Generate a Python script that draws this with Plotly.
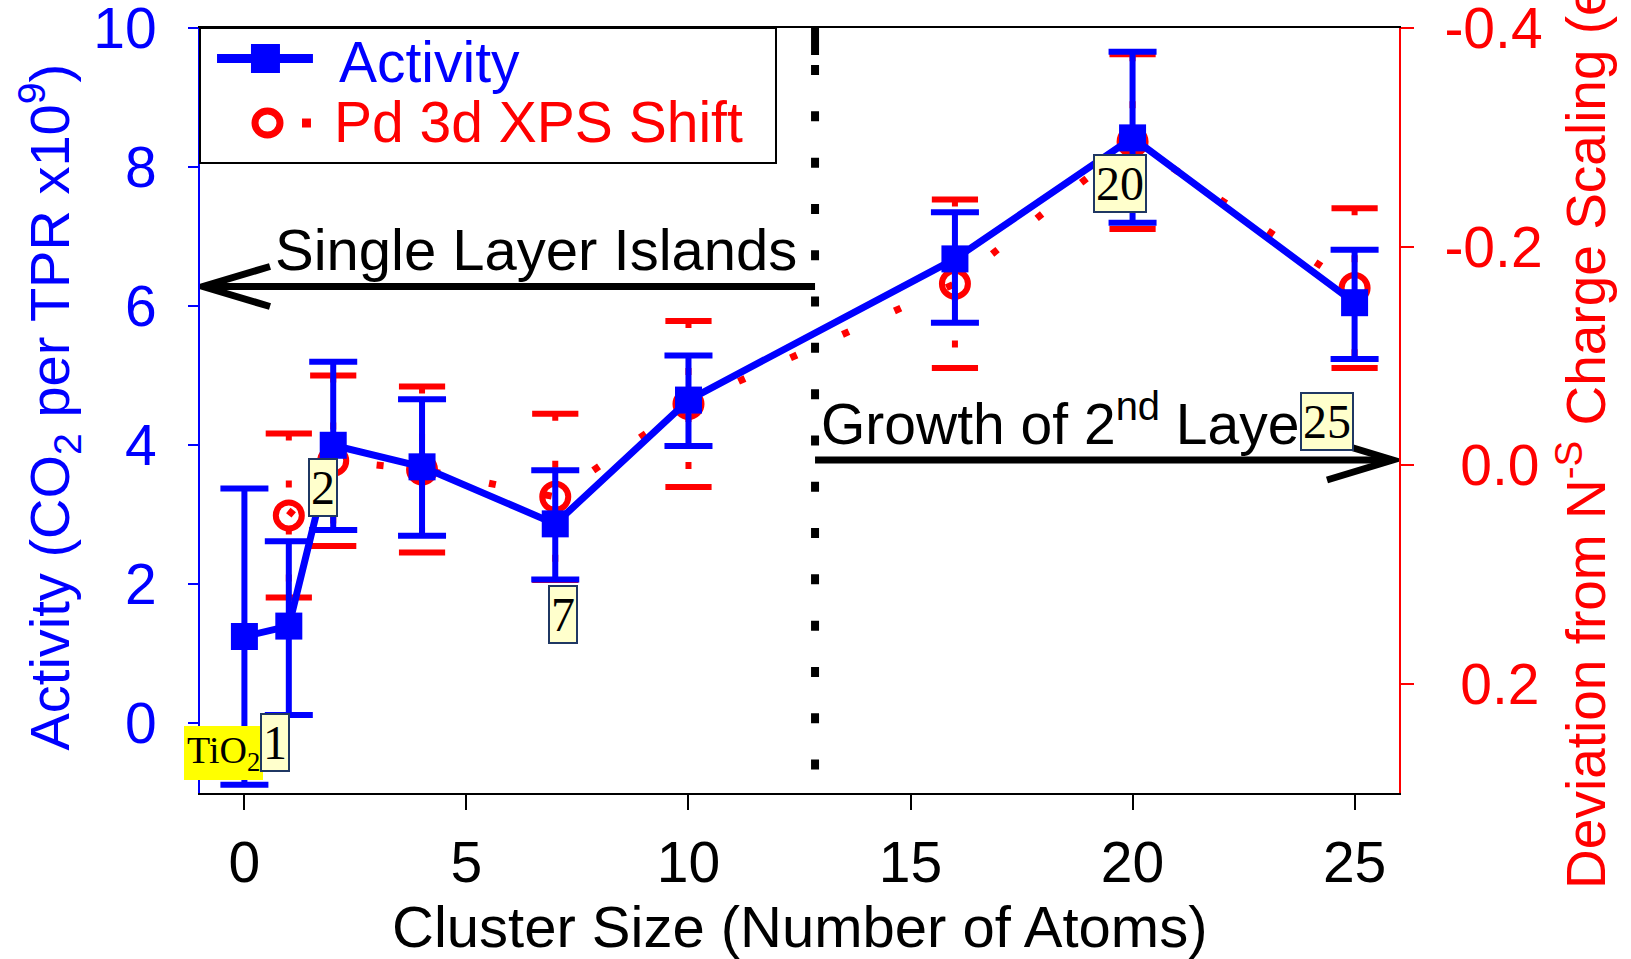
import plotly.graph_objects as go

# Catalytic activity of size-selected Pd clusters on TiO2
cluster_size = [0, 1, 2, 4, 7, 10, 16, 20, 25]
activity = [1.25, 1.40, 4.00, 3.69, 2.87, 4.65, 6.68, 8.42, 6.05]
activity_err_plus = [2.13, 1.22, 1.20, 0.97, 0.77, 0.64, 0.67, 1.24, 0.76]
activity_err_minus = [2.13, 1.28, 1.22, 0.99, 0.80, 0.66, 0.92, 1.22, 0.81]

# Pd 3d XPS shift expressed as deviation from N^-S charge scaling (e)
xps_cluster_size = [1, 2, 4, 7, 10, 16, 20, 25]
xps_shift = [0.046, -0.004, 0.004, 0.029, -0.056, -0.166, -0.296, -0.162]
xps_err = [0.075, 0.078, 0.076, 0.076, 0.076, 0.077, 0.080, 0.073]

x_ticks = [0, 5, 10, 15, 20, 25]
activity_ticks = [0, 2, 4, 6, 8, 10]
shift_ticks = [-0.4, -0.2, 0.0, 0.2]
shift_tick_labels = ["-0.4", "-0.2", "\u00a00.0", "\u00a00.2"]

labelled_sizes = [1, 2, 7, 20, 25]
layer_boundary = 12.85

SANS = "Liberation Sans, Arial, sans-serif"
SERIF = "Liberation Serif, Times New Roman, serif"
BLUE = "#0000FF"
RED = "#FF0000"

fig = go.Figure()

# dotted vertical error bars and caps for the XPS series
seg_x, seg_y, cap_x, cap_y = [], [], [], []
for n, v, e in zip(xps_cluster_size, xps_shift, xps_err):
    seg_x += [n, n, None]
    seg_y += [v - e, v + e, None]
    cap_x += [n, n]
    cap_y += [v - e, v + e]

fig.add_trace(go.Scatter(
    x=seg_x, y=seg_y, mode="lines", yaxis="y",
    line=dict(color=RED, width=6, dash="7px,40px"),
    hoverinfo="skip"))
fig.add_trace(go.Scatter(
    x=cap_x, y=cap_y, mode="markers", yaxis="y",
    marker=dict(symbol="line-ew", size=33, line=dict(color=RED, width=6)),
    hoverinfo="skip"))
fig.add_trace(go.Scatter(
    x=xps_cluster_size, y=xps_shift, mode="lines+markers", yaxis="y",
    name="Pd 3d XPS Shift",
    line=dict(color=RED, width=7, dash="7px,50px"),
    marker=dict(symbol="circle-open", size=26, color=RED, line=dict(color=RED, width=6))))

fig.add_trace(go.Scatter(
    x=cluster_size, y=activity, mode="lines+markers", yaxis="y2",
    name="Activity",
    line=dict(color=BLUE, width=7),
    marker=dict(symbol="square", size=27, color=BLUE),
    error_y=dict(type="data", symmetric=False, array=activity_err_plus,
                 arrayminus=activity_err_minus, color=BLUE, thickness=6, width=24)))

annotations = []
# axis titles
annotations.append(dict(
    text="Activity (CO<sub>2</sub> per TPR x10<sup>9</sup>)", textangle=-90,
    xref="paper", yref="paper", x=-0.1251, y=0.0523, xanchor="center", yanchor="bottom",
    showarrow=False, font=dict(family=SANS, size=56, color=BLUE)))
annotations.append(dict(
    text="Deviation from N<sup>-S</sup> Charge Scaling (e)", textangle=-90,
    xref="paper", yref="paper", x=1.1526, y=-0.128, xanchor="center", yanchor="bottom",
    showarrow=False, font=dict(family=SANS, size=55, color=RED)))
annotations.append(dict(
    text="Cluster Size (Number of Atoms)",
    xref="paper", yref="paper", x=0.5, y=-0.175, xanchor="center", yanchor="middle",
    showarrow=False, font=dict(family=SANS, size=58, color="black")))

# growth regime captions
annotations.append(dict(
    text="Single Layer Islands", xref="x", yref="y2", x=6.57, y=6.82,
    xanchor="center", yanchor="middle", showarrow=False,
    font=dict(family=SANS, size=58, color="black")))
annotations.append(dict(
    text="Growth of 2<sup>nd</sup> Layer", xref="x", yref="y2", x=12.95, y=4.36,
    xanchor="left", yanchor="middle", showarrow=False,
    font=dict(family=SANS, size=57, color="black")))

# cluster size tags
tag_pos = {1: (0.70, -0.28), 2: (1.77, 3.40), 7: (7.17, 1.56), 20: (19.72, 7.77), 25: (24.38, 4.335)}
annotations.append(dict(
    text="TiO<sub>2</sub>", xref="x", yref="y2", x=-0.48, y=-0.425,
    xanchor="center", yanchor="middle", showarrow=False, bgcolor="#FFFF00",
    borderpad=3, borderwidth=0, font=dict(family=SERIF, size=38, color="black")))
for n in labelled_sizes:
    tx, ty = tag_pos[n]
    annotations.append(dict(
        text=str(n), xref="x", yref="y2", x=tx, y=ty,
        xanchor="center", yanchor="middle", showarrow=False,
        bgcolor="#FFFFCC", bordercolor="#1F3763", borderwidth=2, borderpad=1,
        font=dict(family=SERIF, size=48, color="black")))

# legend entries
annotations.append(dict(
    text="Activity", xref="paper", yref="paper", x=0.1143, y=0.9556,
    xanchor="left", yanchor="middle", showarrow=False,
    font=dict(family=SANS, size=57, color=BLUE)))
annotations.append(dict(
    text="Pd 3d XPS Shift", xref="paper", yref="paper", x=0.1101, y=0.8765,
    xanchor="left", yanchor="middle", showarrow=False,
    font=dict(family=SANS, size=57, color=RED)))

shapes = [
    # legend frame
    dict(type="rect", xref="paper", yref="paper", x0=0, x1=0.4804, y0=0.8235, y1=1.0,
         line=dict(color="black", width=2), fillcolor="white", layer="above"),
    dict(type="line", xref="paper", yref="paper", x0=0.0142, x1=0.0942, y0=0.9601, y1=0.9601,
         line=dict(color=BLUE, width=9), layer="above"),
    dict(type="rect", xref="paper", yref="paper", xsizemode="pixel", ysizemode="pixel",
         xanchor=0.0546, yanchor=0.9601, x0=-14.5, x1=14.5, y0=-14.5, y1=14.5,
         fillcolor=BLUE, line=dict(width=0), layer="above"),
    dict(type="circle", xref="paper", yref="paper", xsizemode="pixel", ysizemode="pixel",
         xanchor=0.0563, yanchor=0.8758, x0=-12.5, x1=12.5, y0=-12, y1=12,
         line=dict(color=RED, width=7), layer="above"),
    dict(type="rect", xref="paper", yref="paper", xsizemode="pixel", ysizemode="pixel",
         xanchor=0.0888, yanchor=0.8758, x0=-4.5, x1=4.5, y0=-4.5, y1=4.5,
         fillcolor=RED, line=dict(width=0), layer="above"),
    # boundary between single-layer islands and second-layer growth
    dict(type="line", xref="x", yref="paper", x0=layer_boundary, x1=layer_boundary, y0=1.0, y1=0.9647,
         line=dict(color="black", width=8), layer="above"),
    dict(type="line", xref="x", yref="paper", x0=layer_boundary, x1=layer_boundary, y0=0.9516, y1=0.0,
         line=dict(color="black", width=8, dash="10px,36.3px"), layer="above"),
    # arrows
    dict(type="line", xref="x", yref="y2", x0=layer_boundary, x1=-0.93, y0=6.283, y1=6.283,
         line=dict(color="black", width=7), layer="above"),
    dict(type="path", xref="x", yref="y2", xsizemode="pixel", ysizemode="pixel",
         xanchor=-1, yanchor=6.283, path="M 70,20 L 3,0 L 70,-20",
         line=dict(color="black", width=7), layer="above"),
    dict(type="line", xref="x", yref="y2", x0=layer_boundary, x1=25.8, y0=3.788, y1=3.788,
         line=dict(color="black", width=7), layer="above"),
    dict(type="path", xref="x", yref="y2", xsizemode="pixel", ysizemode="pixel",
         xanchor=25.865, yanchor=3.788, path="M -66,20 L 0,0 L -66,-20",
         line=dict(color="black", width=7), layer="above"),
]

fig.update_layout(
    width=1631, height=959,
    margin=dict(l=200, r=232, t=28, b=166, pad=0, autoexpand=False),
    paper_bgcolor="white", plot_bgcolor="white",
    showlegend=False,
    font=dict(family=SANS, size=56),
    xaxis=dict(range=[-1, 26], tickvals=x_ticks, ticks="outside", ticklen=15, tickwidth=2,
               tickcolor="black", showline=True, linecolor="black", linewidth=2, mirror=True,
               showgrid=False, zeroline=False, ticklabelstandoff=4, ticklabeloverflow="allow",
               automargin=False,
               tickfont=dict(family=SANS, size=57, color="black")),
    yaxis=dict(side="right", range=[0.3, -0.4], tickvals=shift_ticks, ticktext=shift_tick_labels,
               ticks="outside", ticklen=13, tickwidth=2, tickcolor=RED, showline=True,
               linecolor=RED, linewidth=2, showgrid=False, zeroline=False, ticklabelstandoff=19,
               ticklabeloverflow="allow", automargin=False,
               tickfont=dict(family=SANS, size=57, color=RED)),
    yaxis2=dict(side="left", overlaying="y", range=[-1, 10], tickvals=activity_ticks,
                ticks="outside", ticklen=10, tickwidth=2, tickcolor=BLUE, showline=True,
                linecolor=BLUE, linewidth=2, showgrid=False, zeroline=False, ticklabelstandoff=20,
                ticklabeloverflow="allow", automargin=False,
                tickfont=dict(family=SANS, size=57, color=BLUE)),
    annotations=annotations,
    shapes=shapes,
)

fig.write_html("out.html")
